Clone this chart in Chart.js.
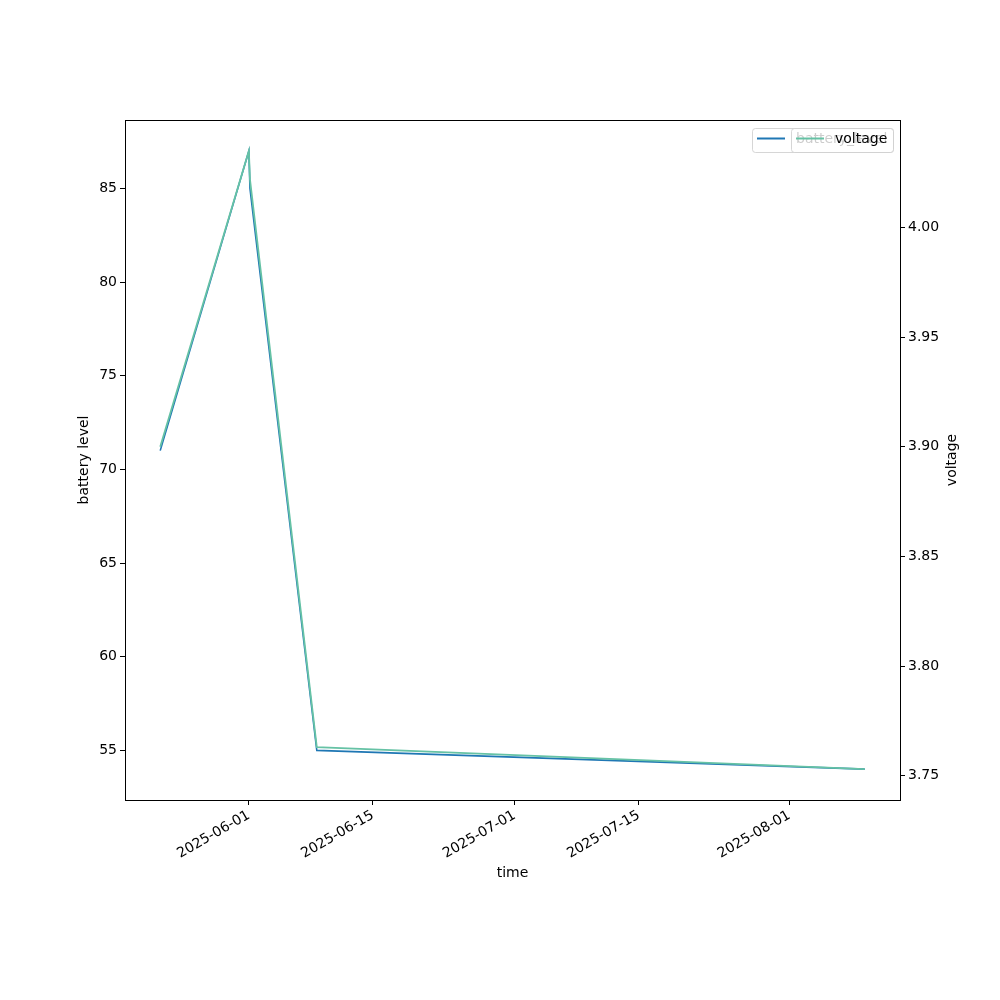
<!DOCTYPE html>
<html>
<head>
<meta charset="utf-8">
<title>battery level and voltage</title>
<script src="https://cdn.jsdelivr.net/npm/chart.js@4"></script>
<style>
  body { margin: 0; background: #fff; }
  #wrap { width: 1000px; height: 1000px; }
</style>
</head>
<body>
<div id="wrap"><canvas id="chart" width="1000" height="1000"></canvas></div>
<script>
// Readings
const times = ['2025-05-22T00:00', '2025-06-01T00:00', '2025-06-01T03:00', '2025-06-08T16:00', '2025-08-09T12:00'];
const batteryLevel = [71, 87, 85, 55, 54];
const voltage = [3.900, 4.035, 4.022, 3.763, 3.753];

// Tick labels
const xTickLabels = ['2025-06-01', '2025-06-15', '2025-07-01', '2025-07-15', '2025-08-01'];
const batteryTicks = [55, 60, 65, 70, 75, 80, 85];
const voltageTicks = [3.75, 3.80, 3.85, 3.90, 3.95, 4.00];

const toMs = (s) => Date.parse(s + 'Z');
const xs = times.map(toMs);

// matplotlib-style 5% margins
function padded(values) {
  const lo = Math.min(...values);
  const hi = Math.max(...values);
  const m = (hi - lo) * 0.05;
  return { min: lo - m, max: hi + m };
}
const xr = padded(xs);
const br = padded(batteryLevel);
const vr = padded(voltage);

const FONT = "'DejaVu Sans', sans-serif";
const blue = '#1f77b4';
const green = '#66c2a5';

function fmtDate(ms) {
  const d = new Date(ms);
  const mm = String(d.getUTCMonth() + 1).padStart(2, '0');
  const dd = String(d.getUTCDate()).padStart(2, '0');
  return d.getUTCFullYear() + '-' + mm + '-' + dd;
}

// frame, axis titles and the two overlapping legends
const decor = {
  id: 'decor',
  afterDraw(chart) {
    const { ctx, chartArea: a } = chart;
    ctx.save();
    ctx.strokeStyle = '#000';
    ctx.lineWidth = 1;
    ctx.strokeRect(a.left + 0.5, a.top + 0.5, a.right - a.left, a.bottom - a.top);

    ctx.fillStyle = '#000';
    ctx.font = '14px ' + FONT;
    ctx.textAlign = 'center';
    ctx.textBaseline = 'middle';
    ctx.fillText('time', (a.left + a.right) / 2, 873);
    const cy = (a.top + a.bottom) / 2;
    [[84, 'battery level'], [952, 'voltage']].forEach(([x, t]) => {
      ctx.save();
      ctx.translate(x, cy);
      ctx.rotate(-Math.PI / 2);
      ctx.fillText(t, 0, 0);
      ctx.restore();
    });

    function legend(x0, color, label) {
      const x1 = a.right - 7, y0 = 128, h = 24;
      ctx.save();
      ctx.beginPath();
      ctx.roundRect(x0 + 0.5, y0 + 0.5, x1 - x0, h, 3);
      ctx.fillStyle = 'rgba(255,255,255,0.8)';
      ctx.fill();
      ctx.strokeStyle = 'rgba(204,204,204,0.8)';
      ctx.stroke();
      ctx.strokeStyle = color;
      ctx.lineWidth = 2;
      ctx.beginPath();
      ctx.moveTo(x0 + 5, y0 + 10.5);
      ctx.lineTo(x0 + 33, y0 + 10.5);
      ctx.stroke();
      ctx.fillStyle = '#000';
      ctx.font = '14px ' + FONT;
      ctx.textAlign = 'left';
      ctx.textBaseline = 'middle';
      ctx.fillText(label, x0 + 44, y0 + 11);
      ctx.restore();
    }
    legend(752, blue, 'battery_level');
    legend(791, green, 'voltage');
    ctx.restore();
  }
};

const tickStyle = { color: '#000', font: { family: FONT, size: 14 } };
const axisGrid = { display: true, drawOnChartArea: false, drawTicks: true, tickLength: 5, color: '#000' };

new Chart(document.getElementById('chart'), {
  type: 'line',
  data: {
    datasets: [
      {
        label: 'battery_level',
        data: xs.map((x, i) => ({ x, y: batteryLevel[i] })),
        borderColor: blue,
        borderWidth: 1.6,
        pointRadius: 0,
        yAxisID: 'y',
        order: 2,
      },
      {
        label: 'voltage',
        data: xs.map((x, i) => ({ x, y: voltage[i] })),
        borderColor: green,
        borderWidth: 1.8,
        pointRadius: 0,
        yAxisID: 'y1',
        order: 1,
      },
    ],
  },
  options: {
    responsive: false,
    animation: false,
    layout: { padding: { top: 120, left: 0, right: 0, bottom: 0 } },
    plugins: { legend: { display: false }, tooltip: { enabled: false } },
    scales: {
      x: {
        type: 'linear',
        min: xr.min,
        max: xr.max,
        grid: axisGrid,
        border: { display: false },
        afterBuildTicks: (s) => { s.ticks = xTickLabels.map((t) => ({ value: toMs(t + 'T00:00') })); },
        afterFit: (s) => { s.height = 200; },
        ticks: { ...tickStyle, minRotation: 30, maxRotation: 30, padding: 2, callback: (v) => fmtDate(v) },
      },
      y: {
        position: 'left',
        min: br.min,
        max: br.max,
        grid: axisGrid,
        border: { display: false },
        afterBuildTicks: (s) => { s.ticks = batteryTicks.map((v) => ({ value: v })); },
        afterFit: (s) => { s.width = 125; },
        ticks: { ...tickStyle, padding: 3, callback: (v) => String(v) },
      },
      y1: {
        position: 'right',
        min: vr.min,
        max: vr.max,
        grid: axisGrid,
        border: { display: false },
        afterBuildTicks: (s) => { s.ticks = voltageTicks.map((v) => ({ value: v })); },
        afterFit: (s) => { s.width = 100; },
        ticks: { ...tickStyle, padding: 3, callback: (v) => Number(v).toFixed(2) },
      },
    },
  },
  plugins: [decor],
});
</script>
</body>
</html>
